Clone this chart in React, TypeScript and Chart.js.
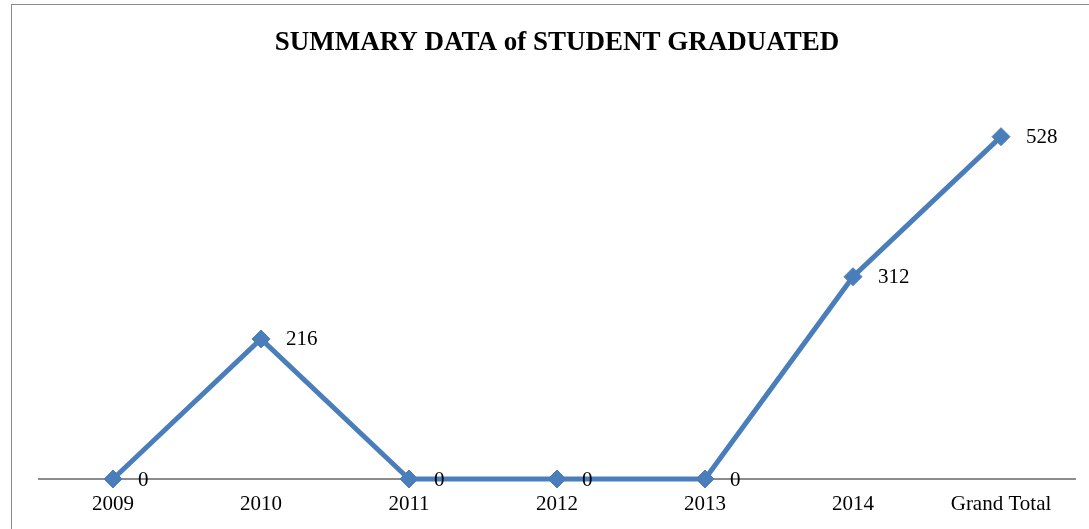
import React, { useEffect, useRef } from "react";
import { Chart, registerables } from "chart.js";

Chart.register(...registerables);

const categories = ["2009", "2010", "2011", "2012", "2013", "2014", "Grand Total"];
const graduated = [0, 216, 0, 0, 0, 312, 528];
const chartTitle = "SUMMARY DATA of STUDENT GRADUATED";

const SERIF = "'Liberation Serif', 'Times New Roman', serif";
const BLUE = "#4a7ebb";

const labelPlugin = {
  id: "pointLabels",
  afterDatasetsDraw(chart: any) {
    const ctx = chart.ctx;
    const meta = chart.getDatasetMeta(0);
    const data = chart.data.datasets[0].data;
    ctx.save();
    ctx.font = `21px ${SERIF}`;
    ctx.fillStyle = "#000";
    ctx.textAlign = "left";
    ctx.textBaseline = "middle";
    meta.data.forEach((pt: any, i: number) => {
      ctx.fillText(String(data[i]), pt.x + 25, pt.y + 1);
    });
    ctx.restore();
  },
};

export default function App() {
  const ref = useRef<HTMLCanvasElement>(null);
  useEffect(() => {
    document.body.style.margin = "0";
    const chart = new Chart(ref.current!, {
      type: "line",
      data: {
        labels: categories,
        datasets: [
          {
            data: graduated,
            borderColor: BLUE,
            backgroundColor: BLUE,
            borderWidth: 5,
            pointStyle: "rectRot",
            pointRadius: 9,
            pointBorderWidth: 1,
            pointBackgroundColor: BLUE,
            pointBorderColor: BLUE,
            tension: 0,
            clip: false,
          },
        ],
      },
      options: {
        animation: false,
        responsive: false,
        layout: { padding: { left: 39, right: 14, top: 0, bottom: 0 } },
        plugins: {
          legend: { display: false },
          tooltip: { enabled: false },
          title: {
            display: true,
            text: chartTitle,
            color: "#000",
            font: { family: SERIF, size: 27, weight: "bold", lineHeight: 1.2 },
            padding: { top: 27, bottom: 30.6 },
          },
        },
        scales: {
          x: {
            offset: true,
            grid: { display: false, drawTicks: false },
            border: { display: true, color: "#8c8c8c", width: 2 },
            ticks: {
              color: "#000",
              font: { family: SERIF, size: 21, lineHeight: 1.2 },
              padding: 12.4,
              maxRotation: 0,
              autoSkip: false,
            },
          },
          y: {
            display: false,
            min: 0,
            max: 600,
          },
        },
      },
      plugins: [labelPlugin],
    });
    return () => chart.destroy();
  }, []);
  return (
    <div style={{ position: "relative", width: 1089, height: 529, overflow: "hidden" }}>
      <div
        style={{
          position: "absolute",
          left: 11,
          top: 4,
          width: 1200,
          height: 700,
          border: "1.5px solid #8a8a8a",
          boxSizing: "border-box",
        }}
      />
      <canvas ref={ref} width={1089} height={529} style={{ position: "absolute", left: 0, top: 0 }} />
    </div>
  );
}
